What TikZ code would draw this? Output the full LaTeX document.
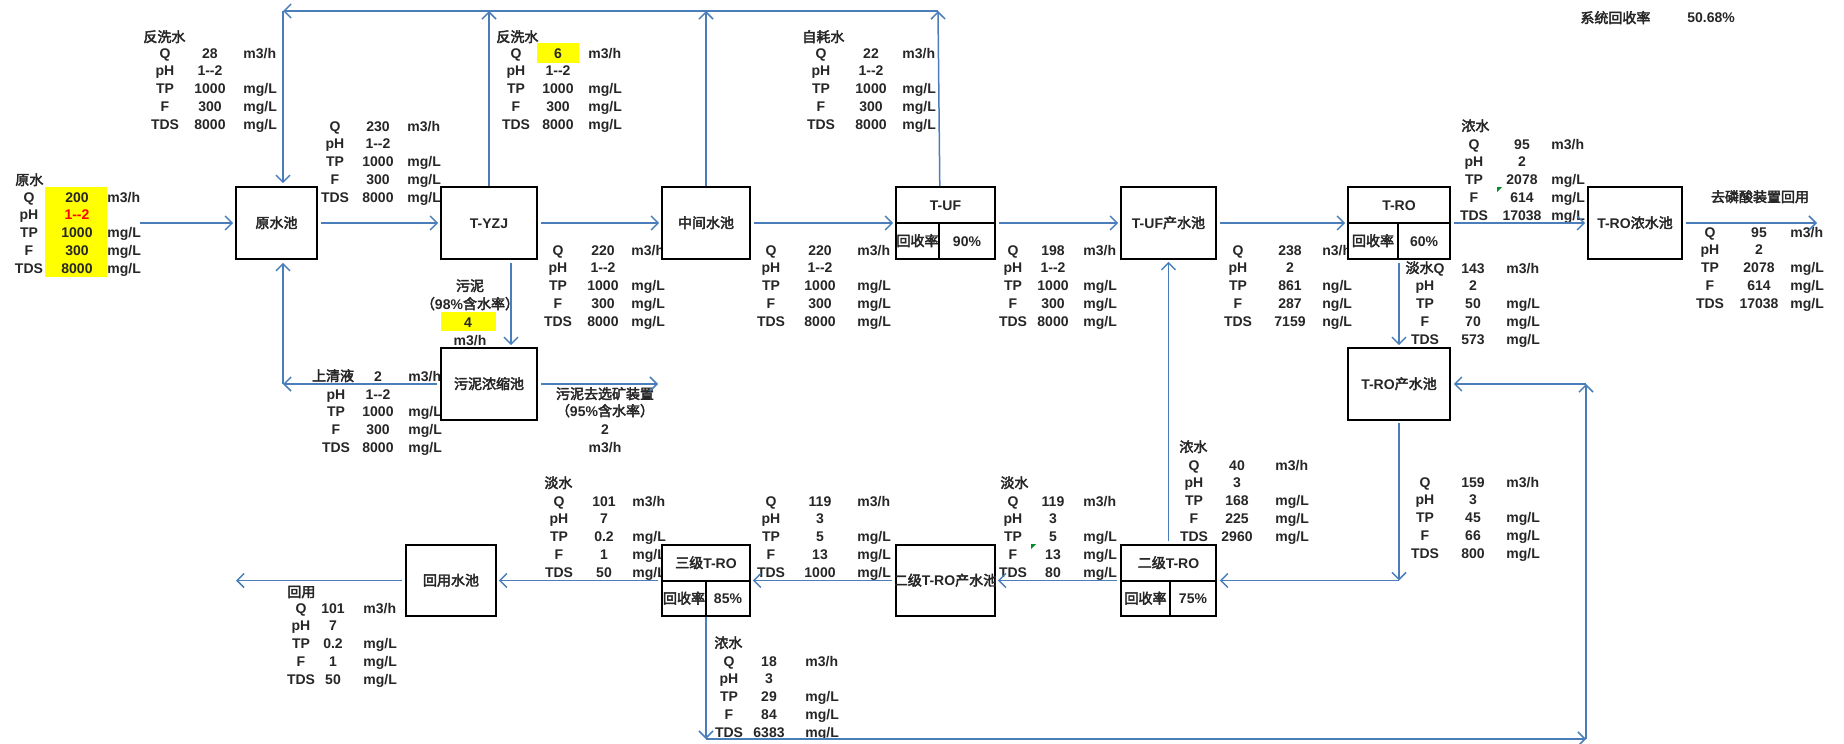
\documentclass[tikz,border=0pt]{standalone}
\usepackage{fontspec}
\setmainfont{Liberation Sans}
\newfontfamily\cjk{Noto Sans CJK SC}[FakeBold=3,BoldFont={Noto Sans CJK SC},BoldFeatures={FakeBold=3}]
\usetikzlibrary{arrows.meta,calc}
\definecolor{lnc}{RGB}{74,126,187}
\definecolor{hl}{RGB}{255,255,0}
\definecolor{cmark}{RGB}{0,140,40}
\newcommand\zh[1]{{\cjk #1}}
\newcommand\dd{1-{}-2}
\newcommand\fs{\fontsize{7pt}{8pt}\selectfont\bfseries}
\newcommand\uQ{m3/h}
\newcommand\uL{mg/L}
\newcommand\dt[8][Q]{%
 \node[txt] (#2q) at (#3,#6) {#1};
 \node[txt] (#2qv) at (#4,#6) {#7};
 \node[txt,anchor=west] (#2qu) at (#5,#6) {\uQ};
 \node[txt] (#2p) at (#3,{#6+17.9}) {pH};
 \node[txt] (#2pv) at (#4,{#6+17.9}) {#8};
 \gdef\dtn{#2}\gdef\dtl{#3}\gdef\dtv{#4}\gdef\dtu{#5}\gdef\dty{#6}}
\newcommand\dtb[3]{%
 \node[txt] (\dtn t) at (\dtl,{\dty+35.8}) {TP};
 \node[txt] (\dtn tv) at (\dtv,{\dty+35.8}) {#1};
 \node[txt,anchor=west] (\dtn tu) at (\dtu,{\dty+35.8}) {\uL};
 \node[txt] (\dtn f) at (\dtl,{\dty+53.7}) {F};
 \node[txt] (\dtn fv) at (\dtv,{\dty+53.7}) {#2};
 \node[txt,anchor=west] (\dtn fu) at (\dtu,{\dty+53.7}) {\uL};
 \node[txt] (\dtn s) at (\dtl,{\dty+71.6}) {TDS};
 \node[txt] (\dtn sv) at (\dtv,{\dty+71.6}) {#3};
 \node[txt,anchor=west] (\dtn su) at (\dtu,{\dty+71.6}) {\uL};}
\begin{document}
\begin{tikzpicture}[x=0.5pt,y=-0.5pt,
 txt/.style={inner sep=0pt,text height=5pt,text depth=0pt,font=\fs,text=black!85},
 box/.style={draw=black,line width=0.8pt,fill=white,inner sep=0pt,font=\fs,text=black!85,text height=5pt,text depth=0pt},
 cell/.style={draw=black,line width=0.8pt,inner sep=0pt,font=\fs,text=black!85,text height=5pt,text depth=0pt},
 flow/.style={draw=lnc,line width=0.75pt,-{Straight Barb[length=3.5pt,width=7pt]}},
 gap/.style={shorten <=1.5pt,shorten >=1pt}]
\useasboundingbox (0,0) rectangle (1844,744);

% highlights
\fill[hl] (45,187) rectangle (107,277);
\fill[hl] (537,43) rectangle (579,63);
\fill[hl] (441,312) rectangle (496,331);

% tables
\node[txt,anchor=west] (Bl) at (15,180) {\zh{原水}};
\dt{B}{29}{77}{107}{197}{200}{\textcolor{red}{\dd}}\dtb{1000}{300}{8000}
\node[txt,anchor=west] (Al) at (143,37) {\zh{反洗水}};
\dt{A}{165}{210}{243}{53}{28}{\dd}\dtb{1000}{300}{8000}
\dt{C}{335}{378}{407}{126}{230}{\dd}\dtb{1000}{300}{8000}
\node[txt,anchor=west] (Dl) at (496,37) {\zh{反洗水}};
\dt{D}{516}{558}{588}{53}{6}{\dd}\dtb{1000}{300}{8000}
\node[txt,anchor=west] (El) at (802,37) {\zh{自耗水}};
\dt{E}{821}{871}{902}{53}{22}{\dd}\dtb{1000}{300}{8000}
\dt{F}{558}{603}{631}{250}{220}{\dd}\dtb{1000}{300}{8000}
\dt{G}{771}{820}{857}{250}{220}{\dd}\dtb{1000}{300}{8000}
\dt{H}{1013}{1053}{1083}{250}{198}{\dd}\dtb{1000}{300}{8000}
{\def\uQ{n3/h}\def\uL{ng/L}\dt{I}{1238}{1290}{1322}{250}{238}{2}\dtb{861}{287}{7159}}
\dt[\zh{淡水}Q]{J}{1425}{1473}{1506}{268}{143}{2}\dtb{50}{70}{573}
\node[txt,anchor=west] (Kl) at (1461,126) {\zh{浓水}};
\dt{K}{1474}{1522}{1551}{144}{95}{2}\dtb{2078}{614}{17038}
\node[txt] (Ll) at (1760,197) {\zh{去磷酸装置回用}};
\dt{L}{1710}{1759}{1790}{232}{95}{2}\dtb{2078}{614}{17038}
\node[txt,anchor=west] (sys) at (1580,18) {\zh{系统回收率}};
\node[txt,anchor=west] (sysv) at (1687,18) {50.68\%};

\node[txt] (Ma) at (470,286) {\zh{污泥}};
\node[txt] (Mb) at (470,304) {\zh{（}98\%\zh{含水率）}};
\node[txt] (Mc) at (468,322) {4};
\node[txt] (Md) at (470,340) {m3/h};

\node[txt] (Nq) at (333,376) {\zh{上清液}};
\node[txt] (Nqv) at (378,376) {2};
\node[txt,anchor=west] (Nqu) at (408,376) {m3/h};
\node[txt] (Np) at (336,394) {pH};
\node[txt] (Npv) at (378,394) {\dd};
\gdef\dtn{N}\gdef\dtl{336}\gdef\dtv{378}\gdef\dtu{408}\gdef\dty{376}
\dtb{1000}{300}{8000}

\node[txt] (Oa) at (605,394) {\zh{污泥去选矿装置}};
\node[txt] (Ob) at (605,411) {\zh{（}95\%\zh{含水率）}};
\node[txt] (Oc) at (605,429) {2};
\node[txt] (Od) at (605,447) {m3/h};

\node[txt,anchor=west] (Pl) at (1179,447) {\zh{浓水}};
\dt{P}{1194}{1237}{1275}{465}{40}{3}\dtb{168}{225}{2960}
\dt{Q}{1425}{1473}{1506}{482}{159}{3}\dtb{45}{66}{800}
\node[txt,anchor=west] (Rl) at (1000,483) {\zh{淡水}};
\dt{R}{1013}{1053}{1083}{501}{119}{3}\dtb{5}{13}{80}
\dt{S}{771}{820}{857}{501}{119}{3}\dtb{5}{13}{1000}
\node[txt,anchor=west] (Tl) at (544,483) {\zh{淡水}};
\dt{T}{559}{604}{632}{501}{101}{7}\dtb{0.2}{1}{50}
\node[txt,anchor=west] (Ul) at (714,643) {\zh{浓水}};
\dt{U}{729}{769}{805}{661}{18}{3}\dtb{29}{84}{6383}
\node[txt,anchor=west] (Vl) at (287,592) {\zh{回用}};
\dt{V}{301}{333}{363}{608}{101}{7}\dtb{0.2}{1}{50}

% comment markers
\fill[cmark] (1497,187) -- (1502,187) -- (1497,192) -- cycle;
\fill[cmark] (1031,544) -- (1036,544) -- (1031,549) -- cycle;

% boxes
\node[box,minimum width=40.5pt,minimum height=36pt] (yuan) at (276.5,223) {\zh{原水池}};
\node[box,minimum width=48pt,minimum height=36pt] (yzj) at (489,223) {T-YZJ};
\node[box,minimum width=44pt,minimum height=36pt] (mid) at (706,223) {\zh{中间水池}};
\node[box,minimum width=49.5pt,minimum height=36pt] (uf) at (945.5,223) {};
\node[txt] (uft) at (945.5,205) {T-UF};
\node[cell,minimum width=21.5pt,minimum height=18pt] (ufa) at (917.5,241) {\zh{回收率}};
\node[cell,minimum width=28pt,minimum height=18pt] (ufb) at (967,241) {90\%};
\node[box,minimum width=47.5pt,minimum height=36pt] (ufp) at (1168.5,223) {T-UF\zh{产水池}};
\node[box,minimum width=51pt,minimum height=36pt] (ro) at (1399,223) {};
\node[txt] (rot) at (1399,205) {T-RO};
\node[cell,minimum width=25pt,minimum height=18pt] (roa) at (1373,241) {\zh{回收率}};
\node[cell,minimum width=26pt,minimum height=18pt] (rob) at (1424,241) {60\%};
\node[box,minimum width=47pt,minimum height=36pt] (ronc) at (1635,223) {T-RO\zh{浓水池}};
\node[box,minimum width=51pt,minimum height=36pt] (rop) at (1399,384) {T-RO\zh{产水池}};
\node[box,minimum width=48pt,minimum height=36pt] (sludge) at (489,384) {\zh{污泥浓缩池}};
\node[box,minimum width=47.5pt,minimum height=35.5pt] (ro2) at (1168.5,580.5) {};
\node[txt] (ro2t) at (1168.5,563) {\zh{二级}T-RO};
\node[cell,minimum width=24.5pt,minimum height=17.5pt] (ro2a) at (1145.5,598.5) {\zh{回收率}};
\node[cell,minimum width=23pt,minimum height=17.5pt] (ro2b) at (1193,598.5) {75\%};
\node[box,minimum width=49.5pt,minimum height=35.5pt] (ro2p) at (945.5,580.5) {};
\begin{scope}
\clip (ro2p.south west) rectangle (ro2p.north east);
\node[txt] (ro2pt) at (945.5,580.5) {\zh{二级}T-RO\zh{产水池}};
\end{scope}
\node[box,minimum width=44pt,minimum height=35.5pt] (ro3) at (706,580.5) {};
\node[txt] (ro3t) at (706,563) {\zh{三级}T-RO};
\node[cell,minimum width=22pt,minimum height=17.5pt] (ro3a) at (684,598.5) {\zh{回收率}};
\node[cell,minimum width=22pt,minimum height=17.5pt] (ro3b) at (728,598.5) {85\%};
\node[box,minimum width=45pt,minimum height=35.5pt] (reuse) at (451,580.5) {\zh{回用水池}};

% connectors
\coordinate (inR) at (140,223);
\coordinate (outR) at (1817,223);
\coordinate (tl) at (283,11);
\coordinate (tr) at (938,11);
\coordinate (bl) at (283,384);
\coordinate (sOut) at (658,384);
\coordinate (rc) at (1399,580.5);
\coordinate (outL) at (236,580.5);
\coordinate (b1) at (706,739);
\coordinate (b2) at (1586,739);
\coordinate (b3) at (1586,384);

\draw[flow,shorten >=1pt] (inR) -- (yuan);
\draw[flow,gap] (yuan) -- (yzj);
\draw[flow,gap] (yzj) -- (mid);
\draw[flow,gap] (mid) -- (uf);
\draw[flow,gap] (uf) -- (ufp);
\draw[flow,gap] (ufp) -- (ro);
\draw[flow,gap] (ro) -- (ronc);
\draw[flow,shorten <=1.5pt] (ronc) -- (outR);

\draw[flow] (yzj.north) -- (yzj.north |- tl);
\draw[flow] (mid.north) -- (mid.north |- tl);
\draw[flow] (uf.north -| ufa.east) -- (tr);
\draw[flow] (tr) -- (tl);
\draw[flow,shorten >=1.5pt] (tl) -- (tl |- yuan.north);

\draw[flow,shorten <=1.5pt] (sludge) -- (bl);
\draw[flow,shorten >=1.5pt] (bl) -- (bl |- yuan.south);
\draw[flow,gap] ($(yzj.south)+(22,0)$) -- ($(sludge.north)+(22,0)$);
\draw[flow,shorten <=1.5pt] (sludge) -- (sOut);

\draw[flow,gap] (ro) -- (rop);
\draw[flow,shorten <=1pt] (rop) -- (rc);
\draw[flow,shorten >=1.5pt] (rc) -- (ro2);
\draw[flow,gap] (ro2) -- (ufp);
\draw[flow,gap] (ro2) -- (ro2p);
\draw[flow,gap] (ro2p) -- (ro3);
\draw[flow,gap] (ro3) -- (reuse);
\draw[flow,shorten <=1.5pt] (reuse) -- (outL);
\draw[flow] (ro3) -- (b1);
\draw[flow] (b1) -- (b2);
\draw[flow] (b2) -- (b3);
\draw[flow,shorten >=1.5pt] (b3) -- (rop);
\end{tikzpicture}
\end{document}
